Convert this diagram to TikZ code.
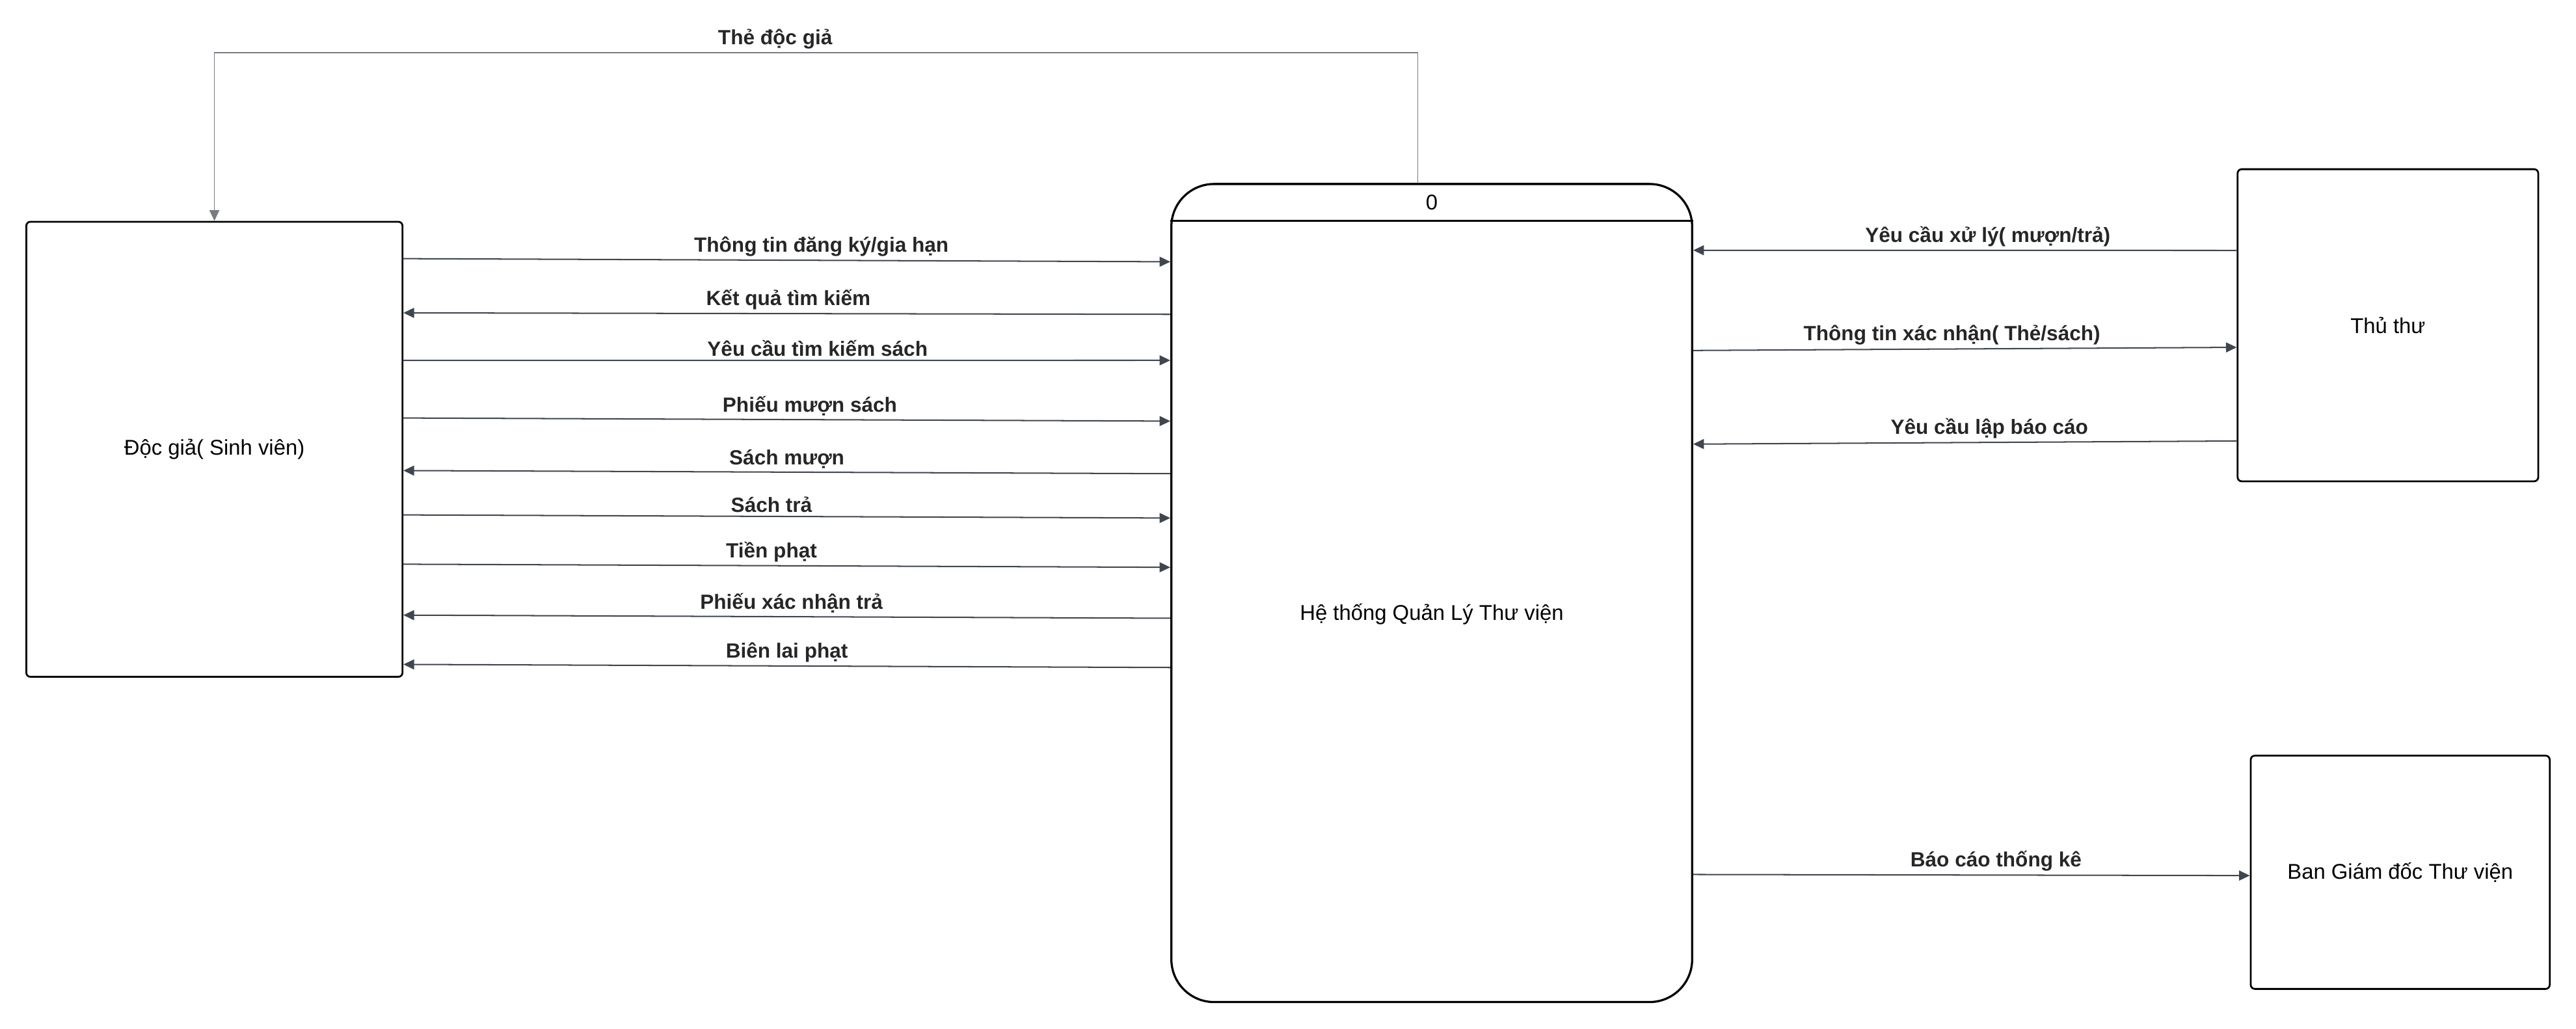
\documentclass[tikz,border=0pt]{standalone}
\usepackage{fontspec}
\setmainfont{Liberation Sans}
\usetikzlibrary{arrows.meta}
\definecolor{flowgray}{RGB}{64,70,79}
\definecolor{linegray}{RGB}{120,124,130}
\tikzset{
  entity/.style={draw=black, line width=1.1pt, rounded corners=2.5pt, inner sep=0pt, font=\fontsize{13}{15}\selectfont},
  flow/.style={draw=flowgray, line width=0.8pt, -{Triangle[length=6.5pt,width=6pt]}},
  lbl/.style={above, inner sep=2pt, font=\fontsize{12.5}{14}\selectfont\bfseries, text=black!85}
}
\begin{document}
\begin{tikzpicture}[x=1pt,y=1pt,yscale=-1]
\useasboundingbox (0,0) rectangle (1568,626.4);

%Entities
\node [entity, minimum width=229pt, minimum height=277pt] (doc) at (130.5,273.5) {Độc giả( Sinh viên)};
\node [entity, minimum width=183pt, minimum height=190pt] (thu) at (1453.5,198) {Thủ thư};
\node [entity, minimum width=182pt, minimum height=142pt] (bgd) at (1461,531) {Ban Giám đốc Thư viện};

%Process
\node [draw=black, line width=1.3pt, rounded corners=26pt, minimum width=317pt, minimum height=498pt] (proc) at (871.5,361) {};
\draw [line width=1.3pt] ([yshift=23pt]proc.north west) -- ([yshift=23pt]proc.north east);
\node [font=\fontsize{13}{15}\selectfont] (pnum) at ([yshift=12pt]proc.north) {0};
\node [font=\fontsize{13}{15}\selectfont] (pname) at ([yshift=13pt]proc.center) {Hệ thống Quản Lý Thư viện};

%Thẻ độc giả
\coordinate (top) at (0,32);
\draw [flow, draw=linegray, line width=0.6pt] ([xshift=-8.5pt]proc.north) -- ([xshift=-8.5pt]proc.north |- top) -| (doc.north) node [lbl, pos=0.267] {Thẻ độc giả};

%Flows with Độc giả
\draw [flow] ([yshift=23pt]doc.north east) -- ([yshift=48pt]proc.north west) node [lbl, pos=0.545] {Thông tin đăng ký/gia hạn};
\draw [flow] ([yshift=80pt]proc.north west) -- ([yshift=56pt]doc.north east) node [lbl, pos=0.498] {Kết quả tìm kiếm};
\draw [flow] ([yshift=85pt]doc.north east) -- ([yshift=108pt]proc.north west) node [lbl, pos=0.54] {Yêu cầu tìm kiếm sách};
\draw [flow] ([yshift=120pt]doc.north east) -- ([yshift=145pt]proc.north west) node [lbl, pos=0.53] {Phiếu mượn sách};
\draw [flow] ([yshift=177pt]proc.north west) -- ([yshift=152pt]doc.north east) node [lbl, pos=0.50] {Sách mượn};
\draw [flow] ([yshift=179pt]doc.north east) -- ([yshift=204pt]proc.north west) node [lbl, pos=0.48] {Sách trả};
\draw [flow] ([yshift=209pt]doc.north east) -- ([yshift=234pt]proc.north west) node [lbl, pos=0.48] {Tiền phạt};
\draw [flow] ([yshift=265pt]proc.north west) -- ([yshift=240pt]doc.north east) node [lbl, pos=0.494] {Phiếu xác nhận trả};
\draw [flow] ([yshift=295pt]proc.north west) -- ([yshift=270pt]doc.north east) node [lbl, pos=0.50] {Biên lai phạt};

%Flows with Thủ thư
\draw [flow] ([yshift=50pt]thu.north west) -- ([yshift=41pt]proc.north east) node [lbl, pos=0.458] {Yêu cầu xử lý( mượn/trả)};
\draw [flow] ([yshift=102pt]proc.north east) -- ([yshift=109pt]thu.north west) node [lbl, pos=0.476] {Thông tin xác nhận( Thẻ/sách)};
\draw [flow] ([yshift=166pt]thu.north west) -- ([yshift=159pt]proc.north east) node [lbl, pos=0.455] {Yêu cầu lập báo cáo};

%Flow to Ban Giám đốc
\draw [flow] ([yshift=421pt]proc.north east) -- ([yshift=2pt]bgd.west) node [lbl, pos=0.544] {Báo cáo thống kê};

\end{tikzpicture}
\end{document}
